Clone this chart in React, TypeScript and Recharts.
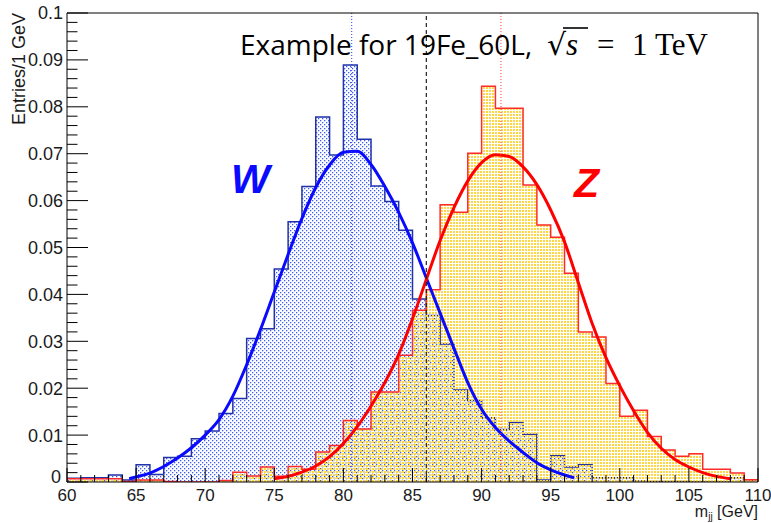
import { ComposedChart, Area, Line, XAxis, YAxis, ReferenceLine } from "recharts";

// histogram binning: 1 GeV bins from 60 to 110
const BIN_START = 60;
const BIN_WIDTH = 1;

// W -> jj, entries per bin (normalised)
const wEntries = [
  0.0008, 0.0009, 0.0009, 0.0015, 0.0004, 0.0037, 0.0016, 0.0052, 0.0055, 0.0092,
  0.0109, 0.0146, 0.0178, 0.0306, 0.0327, 0.0454, 0.0555, 0.063, 0.0778, 0.0697,
  0.0889, 0.0731, 0.0631, 0.0598, 0.0537, 0.039, 0.0355, 0.0294, 0.0196, 0.0174,
  0.0137, 0.0112, 0.0127, 0.0102, 0.0004, 0.0056, 0.0032, 0.0037, 0.0009, 0.0009,
  0.0009, 0.0002, 0.0001, 0.0001, 0.0001, 0, 0, 0, 0.0009, 0.0005,
];

// Z -> jj, entries per bin (normalised)
const zEntries = [
  0.0007, 0.0007, 0.0007, 0.0007, 0.0001, 0.0004, 0.0004, 0.0001, 0, 0,
  0, 0.0003, 0.0021, 0.0013, 0.0032, 0.0012, 0.0033, 0.0027, 0.0064, 0.0078,
  0.0131, 0.0113, 0.0192, 0.0192, 0.027, 0.0366, 0.041, 0.0591, 0.0575, 0.0701,
  0.0844, 0.0797, 0.0797, 0.0633, 0.0548, 0.0522, 0.0445, 0.032, 0.0309, 0.021,
  0.014, 0.0153, 0.0097, 0.0068, 0.0055, 0.006, 0.0027, 0.0027, 0.0019, 0.0005,
];

// fitted curves
const wFitMass = [64.5, 65, 66, 67, 68, 69, 70, 71, 72, 73, 74, 75, 76, 77, 78, 79, 80, 81, 82, 83, 84, 85, 86, 87, 88, 89, 90, 91, 92, 93, 94, 95, 96, 96.7];
const wFitValue = [0.0007, 0.0011, 0.0019, 0.0033, 0.0051, 0.0073, 0.01, 0.0133, 0.0183, 0.025, 0.0325, 0.0405, 0.0485, 0.0562, 0.0628, 0.0676, 0.0703, 0.0705, 0.0677, 0.063, 0.0575, 0.051, 0.0435, 0.036, 0.0285, 0.0212, 0.0155, 0.0116, 0.0087, 0.0063, 0.0041, 0.0026, 0.0015, 0.0009];

const zFitMass = [75, 76, 77, 78, 79, 80, 81, 82, 83, 84, 85, 86, 87, 88, 89, 90, 91, 92, 93, 94, 95, 96, 97, 98, 99, 100, 101, 102, 103, 104, 105, 106, 107, 108];
const zFitValue = [0.0007, 0.0012, 0.0021, 0.0034, 0.0054, 0.0082, 0.0118, 0.0162, 0.0212, 0.0272, 0.0348, 0.0432, 0.0515, 0.0585, 0.0642, 0.0681, 0.0698, 0.0694, 0.0672, 0.0634, 0.058, 0.0512, 0.0425, 0.0338, 0.0265, 0.0205, 0.0152, 0.0106, 0.0072, 0.0048, 0.0032, 0.002, 0.0012, 0.0007];

const wMean = 80.6;
const zMean = 91.4;
const cutMass = 86;

const xTickLabels = ["60", "65", "70", "75", "80", "85", "90", "95", "100", "105", "110"];
const yTickLabels = ["0", "0.01", "0.02", "0.03", "0.04", "0.05", "0.06", "0.07", "0.08", "0.09", "0.1"];

const toSteps = (vals: number[]) => [
  ...vals.map((v, i) => ({ x: BIN_START + i * BIN_WIDTH, y: v })),
  { x: BIN_START + vals.length * BIN_WIDTH, y: vals[vals.length - 1] },
];
const toPoints = (xs: number[], ys: number[]) => xs.map((x, i) => ({ x, y: ys[i] }));

const wHist = toSteps(wEntries);
const zHist = toSteps(zEntries);
const wFit = toPoints(wFitMass, wFitValue);
const zFit = toPoints(zFitMass, zFitValue);

// tick positions (major + minor)
const xTicks = Array.from({ length: 51 }, (_, i) => 60 + i);
const yTicks = Array.from({ length: 51 }, (_, i) => Number((i * 0.002).toFixed(3)));

const AXIS_FONT = "'Liberation Sans', Arial, Helvetica, sans-serif";

const YTick = (props: any) => {
  const { x, y, payload } = props;
  const k = payload.value * 100;
  const major = Math.abs(k - Math.round(k)) < 1e-6;
  return (
    <g>
      <line x1={x} x2={x + (major ? 21 : 10.5)} y1={y} y2={y} stroke="#000" strokeWidth={1} />
      {major && (
        <text x={k === 0 ? x - 6 : x - 4} y={k === 0 ? y - 5 : y} dy="0.36em" textAnchor="end" fontSize={18} fontFamily={AXIS_FONT} fill="#1a1a1a">
          {yTickLabels[Math.round(k)]}
        </text>
      )}
    </g>
  );
};

const XTick = (props: any) => {
  const { x, y, payload } = props;
  const v = payload.value;
  const major = (v - 60) % 5 === 0;
  return (
    <g>
      <line x1={x} x2={x} y1={y} y2={y - (major ? 14 : 7)} stroke="#000" strokeWidth={1} />
      {major && (
        <text x={x} y={y + 19} textAnchor="middle" fontSize={17} fontFamily={AXIS_FONT} fill="#1a1a1a">
          {xTickLabels[(v - 60) / 5]}
        </text>
      )}
    </g>
  );
};

export default function App() {
  return (
    <div style={{ position: "absolute", left: 0, top: 0, width: 771, height: 523, background: "#fff" }}>
      <ComposedChart width={771} height={523} margin={{ top: 13, right: 13, bottom: 0, left: 0 }}>
        <defs>
          <pattern id="wDots" width="4" height="4" patternUnits="userSpaceOnUse">
            <rect x="0" y="0" width="1.3" height="1.3" fill="#3a5cf0" />
            <rect x="2" y="2" width="1.3" height="1.3" fill="#3a5cf0" />
          </pattern>
          <pattern id="zDots" width="3" height="3" patternUnits="userSpaceOnUse">
            <rect x="0" y="0" width="2" height="2" fill="#fdd645" />
          </pattern>
        </defs>
        <XAxis
          type="number"
          dataKey="x"
          domain={[60, 110]}
          ticks={xTicks}
          interval={0}
          tickSize={0}
          tickMargin={0}
          tickLine={false}
          tick={<XTick />}
          height={41}
          axisLine={{ stroke: "#000" }}
          allowDataOverflow
        />
        <YAxis
          type="number"
          domain={[0, 0.1]}
          ticks={yTicks}
          interval={0}
          tickSize={0}
          tickMargin={0}
          tickLine={false}
          tick={<YTick />}
          width={67}
          axisLine={{ stroke: "#000" }}
          allowDataOverflow
        />
        <Area
          data={wHist}
          dataKey="y"
          type="stepAfter"
          stroke="#2233aa"
          strokeWidth={1.5}
          fill="url(#wDots)"
          fillOpacity={1}
          isAnimationActive={false}
        />
        <Area
          data={zHist}
          dataKey="y"
          type="stepAfter"
          stroke="#ff2a2a"
          strokeWidth={1.5}
          fill="url(#zDots)"
          fillOpacity={1}
          isAnimationActive={false}
        />
        <Line data={wFit} dataKey="y" type="monotone" stroke="#0a0aff" strokeWidth={3} dot={false} isAnimationActive={false} />
        <Line data={zFit} dataKey="y" type="monotone" stroke="#ff0000" strokeWidth={3} dot={false} isAnimationActive={false} />
        <ReferenceLine x={wMean} stroke="#2b3cff" strokeWidth={1} strokeDasharray="1 2" />
        <ReferenceLine x={zMean} stroke="#ff3b3b" strokeWidth={1} strokeDasharray="1 2" />
        <ReferenceLine x={cutMass} stroke="#222" strokeWidth={1.2} strokeDasharray="4 3" />
        <ReferenceLine y={0.1} stroke="#000" strokeWidth={1} />
        <ReferenceLine x={110} stroke="#000" strokeWidth={1} />
      </ComposedChart>
      <svg width={771} height={523} style={{ position: "absolute", left: 0, top: 0, pointerEvents: "none" }}>
        <text transform="translate(25,13) rotate(-90)" textAnchor="end" fontSize={18} fontFamily={AXIS_FONT} fill="#1a1a1a">
          Entries/1 GeV
        </text>
        <text x={758} y={517} textAnchor="end" fontSize={16} fontFamily={AXIS_FONT} fill="#1a1a1a">
          m<tspan fontSize={10} dy={3}>jj</tspan><tspan dy={-3}> [GeV]</tspan>
        </text>
        <text x={240} y={55} fontSize={28} fontFamily="'Open Sans', sans-serif" fill="#000">
          Example for 19Fe_60L,
        </text>
        <text x={547} y={55} fontSize={30} fontFamily="'DejaVu Serif', serif" fill="#000">√</text>
        <line x1={563} x2={588} y1={28} y2={28} stroke="#000" strokeWidth={1.6} />
        <text x={566} y={55} fontSize={31} fontStyle="italic" fontFamily="'Liberation Serif', serif" fill="#000">s</text>
        <text x={597} y={55} fontSize={31} fontFamily="'Liberation Serif', serif" fill="#000">=</text>
        <text x={632} y={55} fontSize={31} fontFamily="'Liberation Serif', serif" fill="#000">1</text>
        <text x={655} y={55} fontSize={31} fontFamily="'Liberation Serif', serif" fill="#000">TeV</text>
        <text x={231} y={193} fontSize={41} fontWeight="bold" fontStyle="italic" fontFamily={AXIS_FONT} fill="#0a0aff">W</text>
        <text x={574} y={197} fontSize={41} fontWeight="bold" fontStyle="italic" fontFamily={AXIS_FONT} fill="#ff0000">Z</text>
      </svg>
    </div>
  );
}
